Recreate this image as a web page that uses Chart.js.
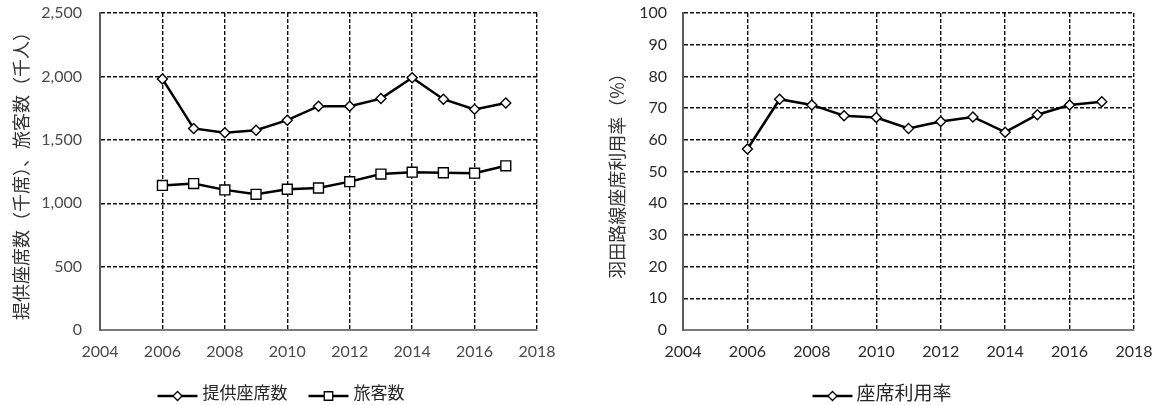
<!DOCTYPE html>
<html>
<head>
<meta charset="utf-8">
<script src="https://cdn.jsdelivr.net/npm/chart.js@4.4.1/dist/chart.umd.min.js"></script>
<style>
  html, body { margin: 0; padding: 0; background: #ffffff; }
  #wrap { position: relative; width: 1160px; height: 405px; overflow: hidden; }
  .panel { position: absolute; top: 0; height: 405px; }
  #left { left: 0; width: 578px; }
  #right { left: 578px; width: 582px; }
</style>
</head>
<body>
<div id="wrap">
  <div class="panel" id="left"><canvas id="seatChart"></canvas></div>
  <div class="panel" id="right"><canvas id="rateChart"></canvas></div>
</div>
<script>
// 羽田路線: 提供座席数・旅客数 (千) と座席利用率 (%)
const years = [2006, 2007, 2008, 2009, 2010, 2011, 2012, 2013, 2014, 2015, 2016, 2017];
const seats = [1980, 1590, 1555, 1575, 1655, 1765, 1765, 1825, 1990, 1820, 1740, 1790];
const passengers = [1140, 1155, 1105, 1070, 1110, 1120, 1170, 1230, 1245, 1240, 1237, 1295];
const loadFactor = [57.1, 72.8, 71.0, 67.6, 67.0, 63.6, 65.8, 67.2, 62.4, 67.9, 71.0, 72.0];

const seriesNames = ['提供座席数', '旅客数', '座席利用率'];
const leftAxisTitle = '提供座席数（千席）、旅客数（千人）';
const rightAxisTitle = '羽田路線座席利用率（%）';

const yearRange = { min: 2004, max: 2018, step: 2 };
const seatRange = { min: 0, max: 2500, step: 500 };
const rateRange = { min: 0, max: 100, step: 10 };

const JP = '"Noto Sans CJK JP", "Noto Sans", sans-serif';
const NUM = 'Lato, "Liberation Sans", sans-serif';

const toPoints = (vals) => years.map((y, i) => ({ x: y, y: vals[i] }));

// Legend drawn as a short line with the series marker in its middle
const lineLegend = {
  id: 'lineLegend',
  afterDraw(chart, args, opts) {
    const ctx = chart.ctx;
    const font = `${opts.fontSize}px ${JP}`;
    ctx.save();
    ctx.font = font;
    const items = chart.data.datasets.map(ds => ({
      ds,
      w: opts.lineLen + opts.gap + ctx.measureText(ds.label).width
    }));
    const total = items.reduce((s, it) => s + it.w, 0) + opts.spacing * (items.length - 1);
    let x = opts.centerX - total / 2;
    items.forEach(it => {
      const ds = it.ds;
      ctx.strokeStyle = '#000';
      ctx.lineWidth = 2.5;
      ctx.beginPath();
      ctx.moveTo(x, opts.lineY);
      ctx.lineTo(x + opts.lineLen, opts.lineY);
      ctx.stroke();
      ctx.fillStyle = '#fff';
      ctx.strokeStyle = '#000';
      ctx.lineWidth = 1.3;
      Chart.helpers.drawPoint(ctx, {
        pointStyle: ds.pointStyle,
        radius: ds.pointStyle === 'rect' ? 6 : 4.5,
        rotation: 0,
        borderWidth: 1.3
      }, x + opts.lineLen / 2, opts.lineY);
      ctx.fillStyle = opts.color;
      ctx.font = font;
      ctx.textBaseline = 'middle';
      ctx.textAlign = 'left';
      ctx.fillText(ds.label, x + opts.lineLen + opts.gap, opts.textY);
      x += it.w + opts.spacing;
    });
    ctx.restore();
  }
};

function gridStyle() {
  return { color: '#111111', lineWidth: 1.4, drawTicks: false };
}

function lineDataset(label, values, style, radius) {
  return {
    label,
    data: toPoints(values),
    borderColor: '#000',
    borderWidth: 2.5,
    tension: 0,
    pointStyle: style,
    pointRadius: radius,
    pointHoverRadius: radius,
    pointBackgroundColor: '#fff',
    pointBorderColor: '#000',
    pointBorderWidth: 1.4
  };
}

// cfg.axisWidth / cfg.axisHeight fix the space taken by the y and x axes
function buildOptions(cfg) {
  return {
    responsive: true,
    maintainAspectRatio: false,
    animation: false,
    locale: 'en-US',
    layout: { padding: cfg.padding, autoPadding: false },
    plugins: {
      legend: { display: false },
      tooltip: { enabled: false },
      lineLegend: cfg.legend
    },
    scales: {
      x: {
        type: 'linear',
        min: yearRange.min,
        max: yearRange.max,
        grid: gridStyle(),
        border: { display: true, color: '#7a7a7a', width: 2, dash: [4, 2] },
        ticks: {
          stepSize: yearRange.step,
          padding: 12,
          color: cfg.tickColor,
          font: { family: NUM, size: 16 },
          callback: v => String(v)
        },
        afterFit(scale) {
          scale.height = cfg.axisHeight;
          scale.paddingLeft = 0;
          scale.paddingRight = 0;
        }
      },
      y: {
        min: cfg.range.min,
        max: cfg.range.max,
        grid: gridStyle(),
        border: { display: true, color: '#5a5a5a', width: 2, dash: [4, 2] },
        ticks: {
          stepSize: cfg.range.step,
          padding: cfg.tickPad,
          color: cfg.tickColor,
          font: { family: NUM, size: 16 }
        },
        title: {
          display: true,
          text: cfg.title,
          color: '#333333',
          font: { family: JP, size: 18 },
          padding: cfg.titlePad
        },
        afterFit(scale) {
          scale.width = cfg.axisWidth;
          scale.paddingTop = 0;
          scale.paddingBottom = 0;
        }
      }
    }
  };
}

const leftOpts = buildOptions({
  padding: { left: 0, right: 41, top: 13, bottom: 0 },
  axisWidth: 100,
  axisHeight: 75,
  range: seatRange,
  tickPad: 18,
  tickColor: '#4a4a4a',
  title: leftAxisTitle,
  titlePad: { top: 10, bottom: 0 },
  legend: { centerX: 281, lineY: 396, textY: 393, lineLen: 40, gap: 5, spacing: 21, fontSize: 17, color: '#262626' }
});

const rightOpts = buildOptions({
  padding: { left: 0, right: 26, top: 13, bottom: 0 },
  axisWidth: 105,
  axisHeight: 75,
  range: rateRange,
  tickPad: 16,
  tickColor: '#2a2a2a',
  title: rightAxisTitle,
  titlePad: { top: 28, bottom: 0 },
  legend: { centerX: 304, lineY: 396, textY: 393, lineLen: 40, gap: 4, spacing: 20, fontSize: 19, color: '#262626' }
});

new Chart(document.getElementById('seatChart'), {
  type: 'line',
  data: {
    datasets: [
      lineDataset(seriesNames[0], seats, 'rectRot', 5),
      lineDataset(seriesNames[1], passengers, 'rect', 7)
    ]
  },
  options: leftOpts,
  plugins: [lineLegend]
});

new Chart(document.getElementById('rateChart'), {
  type: 'line',
  data: {
    datasets: [
      lineDataset(seriesNames[2], loadFactor, 'rectRot', 5)
    ]
  },
  options: rightOpts,
  plugins: [lineLegend]
});
</script>
</body>
</html>
